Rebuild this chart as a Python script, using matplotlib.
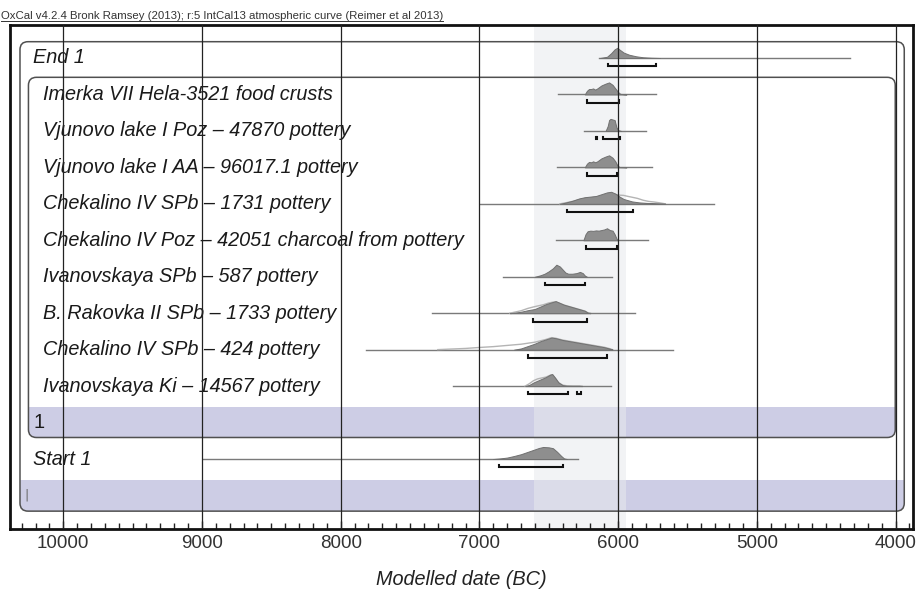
import matplotlib
matplotlib.use("Agg")
import matplotlib.pyplot as plt
from matplotlib.patches import FancyBboxPatch, Rectangle
from matplotlib.ticker import MultipleLocator
from matplotlib.lines import Line2D

# 1. Data (years BC, densities relative to each peak)
labels = [
    "End 1",
    "Imerka VII Hela-3521 food crusts",
    "Vjunovo lake I Poz \u2013 47870 pottery",
    "Vjunovo lake I AA \u2013 96017.1 pottery",
    "Chekalino IV SPb \u2013 1731 pottery",
    "Chekalino IV Poz \u2013 42051 charcoal from pottery",
    "Ivanovskaya SPb \u2013 587 pottery",
    "B. Rakovka II SPb \u2013 1733 pottery",
    "Chekalino IV SPb \u2013 424 pottery",
    "Ivanovskaya Ki \u2013 14567 pottery",
    "1",
    "Start 1",
    "|",
]
# thin horizontal range line under each distribution (from, to)
range_lines = [(6135, 4330), (6430, 5728), (6245, 5798), (6442, 5753), (6995, 5312),
               (6449, 5781), (6831, 6041), (7343, 5877), (7820, 5601), (7188, 6050),
               None, (8990, 6286), None]
# 95.4% ranges drawn as brackets
ranges_954 = [
    [(6073, 5724)],
    [(6223, 5990)],
    [(6160, 6150), (6106, 5983)],
    [(6223, 6005)],
    [(6370, 5894)],
    [(6233, 6009)],
    [(6529, 6236)],
    [(6615, 6226)],
    [(6646, 6077)],
    [(6646, 6363), (6297, 6267)],
    [],
    [(6858, 6394)],
    [],
]

end1_x = [6130, 6080, 6050, 6025, 6005, 5990, 5960, 5920, 5870, 5820, 5760, 5700]
end1_y = [0, 0.1, 0.4, 0.72, 0.85, 0.7, 0.45, 0.27, 0.14, 0.06, 0.02, 0]

imerka_x = [6240, 6225, 6210, 6195, 6180, 6165, 6150, 6120, 6090, 6065, 6040, 6020, 6000, 5985, 5960, 5940]
imerka_y = [0, 0.3, 0.45, 0.45, 0.5, 0.4, 0.5, 0.75, 0.9, 1.0, 0.8, 0.5, 0.2, 0.05, 0.02, 0]

vjpoz_x = [6090, 6075, 6065, 6055, 6040, 6025, 6012, 6000, 5980]
vjpoz_y = [0, 0.4, 0.9, 1.0, 0.95, 0.9, 0.3, 0.05, 0]

vjaa_x = [6240, 6225, 6210, 6195, 6180, 6165, 6150, 6120, 6090, 6065, 6040, 6020, 6005, 5990, 5960, 5940]
vjaa_y = [0, 0.3, 0.45, 0.42, 0.5, 0.42, 0.5, 0.75, 0.9, 1.0, 0.8, 0.5, 0.15, 0.03, 0.02, 0]

ch1731_x = [6420, 6380, 6330, 6280, 6240, 6200, 6160, 6120, 6080, 6050, 6020, 5990, 5960, 5930, 5900,
            5850, 5800, 5750, 5690, 5660]
ch1731_y = [0, 0.1, 0.25, 0.45, 0.55, 0.6, 0.65, 0.8, 0.95, 1.0, 0.85, 0.6, 0.4, 0.3, 0.2,
            0.12, 0.08, 0.05, 0.02, 0]
ch1731_lik_x = [6420, 6380, 6330, 6280, 6240, 6200, 6160, 6120, 6080, 6050, 6020, 5990, 5960, 5930,
                5900, 5860, 5820, 5780, 5740, 5700, 5660]
ch1731_lik_y = [0, 0.08, 0.2, 0.35, 0.45, 0.5, 0.55, 0.65, 0.78, 0.82, 0.78, 0.72, 0.7, 0.62,
                0.55, 0.45, 0.3, 0.2, 0.15, 0.08, 0]

chpoz_x = [6250, 6235, 6220, 6200, 6180, 6160, 6140, 6120, 6100, 6080, 6060, 6040, 6025, 6010, 6000]
chpoz_y = [0, 0.5, 0.75, 0.8, 0.78, 0.82, 0.8, 0.85, 0.9, 1.0, 0.85, 0.8, 0.5, 0.1, 0]

ivspb_x = [6600, 6560, 6530, 6500, 6470, 6445, 6420, 6400, 6380, 6360, 6330, 6300, 6275, 6255, 6240, 6225]
ivspb_y = [0, 0.12, 0.25, 0.45, 0.7, 1.0, 0.85, 0.6, 0.35, 0.25, 0.25, 0.3, 0.4, 0.3, 0.1, 0]

rak_x = [6780, 6740, 6700, 6650, 6600, 6560, 6520, 6480, 6450, 6420, 6390, 6360, 6330, 6300, 6270,
         6240, 6220, 6200]
rak_y = [0, 0.05, 0.12, 0.25, 0.35, 0.55, 0.75, 0.9, 1.0, 0.85, 0.7, 0.6, 0.5, 0.4, 0.3,
         0.2, 0.05, 0]
rak_lik_x = [6780, 6740, 6700, 6650, 6610, 6580, 6540, 6500, 6470, 6450, 6420, 6390, 6360, 6330,
             6300, 6270, 6240, 6220, 6200]
rak_lik_y = [0, 0.1, 0.2, 0.4, 0.52, 0.6, 0.7, 0.85, 0.92, 0.95, 0.82, 0.68, 0.58, 0.48,
             0.38, 0.28, 0.18, 0.05, 0]

ch424_x = [6750, 6700, 6650, 6600, 6560, 6520, 6480, 6450, 6400, 6350, 6300, 6250, 6200, 6150,
           6100, 6060, 6040]
ch424_y = [0, 0.1, 0.3, 0.5, 0.7, 0.85, 1.0, 0.95, 0.8, 0.7, 0.6, 0.5, 0.4, 0.3,
           0.2, 0.08, 0]
ch424_lik_x = [7300, 7200, 7100, 7000, 6900, 6800, 6700, 6600, 6520, 6480, 6450, 6400, 6350, 6300,
               6250, 6200, 6150, 6100, 6060, 6040]
ch424_lik_y = [0, 0.05, 0.1, 0.18, 0.25, 0.35, 0.45, 0.62, 0.85, 1.0, 0.95, 0.8, 0.7, 0.6,
               0.5, 0.4, 0.3, 0.2, 0.08, 0]

ivki_x = [6670, 6640, 6610, 6580, 6550, 6520, 6490, 6475, 6455, 6430, 6400, 6370, 6330, 6280, 6260]
ivki_y = [0, 0.1, 0.3, 0.45, 0.6, 0.75, 0.95, 1.0, 0.7, 0.3, 0.08, 0.03, 0.02, 0.02, 0]
ivki_lik_x = [6670, 6640, 6610, 6580, 6550, 6520, 6490, 6475, 6455, 6430, 6400, 6370, 6330, 6280, 6260]
ivki_lik_y = [0, 0.2, 0.45, 0.6, 0.68, 0.75, 0.9, 0.95, 0.7, 0.3, 0.08, 0.03, 0.02, 0.02, 0]

start1_x = [6900, 6850, 6800, 6750, 6700, 6650, 6600, 6570, 6540, 6500, 6470, 6440, 6410, 6390, 6370]
start1_y = [0, 0.05, 0.12, 0.25, 0.4, 0.6, 0.8, 0.92, 1.0, 0.97, 0.9, 0.6, 0.25, 0.05, 0]

posteriors = [(end1_x, end1_y), (imerka_x, imerka_y), (vjpoz_x, vjpoz_y), (vjaa_x, vjaa_y),
              (ch1731_x, ch1731_y), (chpoz_x, chpoz_y), (ivspb_x, ivspb_y), (rak_x, rak_y),
              (ch424_x, ch424_y), (ivki_x, ivki_y), None, (start1_x, start1_y), None]
likelihoods = {4: (ch1731_lik_x, ch1731_lik_y), 7: (rak_lik_x, rak_lik_y),
               8: (ch424_lik_x, ch424_lik_y), 9: (ivki_lik_x, ivki_lik_y)}

highlight = (6606, 5942)       # shaded column
x_ticks = [10000, 9000, 8000, 7000, 6000, 5000, 4000]

# 2. Layout constants
LAVENDER = "#cdcde5"
BOX_EDGE = "#505050"
PEAK = 0.33          # distribution peak height in rows
RAD_X = 58           # corner radius in years
ASPECT = 0.22 / RAD_X
LABEL_FS = 14.3

fig = plt.figure(figsize=(9.18, 5.92), dpi=100)
ax = fig.add_axes([10 / 918, 1 - 529 / 592, 903 / 918, 504 / 592])
ax.set_xlim(10384, 3874)
ax.set_ylim(12.92, -0.905)


def rounded_box(x_left, x_right, top, bottom):
    patch = FancyBboxPatch((x_right, top), x_left - x_right, bottom - top,
                           boxstyle=f"round,pad=0,rounding_size={RAD_X}",
                           mutation_aspect=ASPECT, fc="none", ec=BOX_EDGE, lw=1.1, zorder=2.2)
    ax.add_patch(patch)
    return patch


outer = rounded_box(10312, 3937, -0.447, 12.43)
inner = rounded_box(10251, 4002, 0.53, 10.41)

# lavender bands for the phase / sequence rows, clipped by their rounded boxes
for row, box, (xl, xr) in [(10, inner, (10251, 4002)), (12, outer, (10312, 3937))]:
    band = Rectangle((xr, row - 0.425), xl - xr, 0.85, fc=LAVENDER, ec="none", zorder=1)
    ax.add_patch(band)
    band.set_clip_path(box)

# shaded column
ax.axvspan(highlight[0], highlight[1], color="#e8eaed", alpha=0.55, lw=0, zorder=1.5)

# 3. Distributions, range lines and brackets
for i, label in enumerate(labels):
    if range_lines[i] is not None:
        ax.plot(range_lines[i], [i, i], color="#7a7a7a", lw=1.0, zorder=2.5)
    if i in likelihoods:
        lx, ly = likelihoods[i]
        ax.plot(lx, [i - PEAK * v for v in ly], color="#b4b4b4", lw=1.0, zorder=2.6)
    if posteriors[i] is not None:
        px, py = posteriors[i]
        ax.fill_between(px, [i] * len(px), [i - PEAK * v for v in py],
                        fc="#8e8e8e", ec="#707070", lw=0.7, zorder=2.7)
    for a, b in ranges_954[i]:
        yb = i + 0.23
        ax.plot([a, a, b, b], [yb - 0.07, yb, yb, yb - 0.07], color="#111111", lw=1.5,
                solid_joinstyle="miter", zorder=2.8)

    if i == 12:
        ax.text(10283, i, label, fontsize=9, color="#666666", va="center", ha="left", zorder=3)
    elif i in (0, 10, 11):
        style = "normal" if label == "1" else "italic"
        ax.text(10218, i, label, fontsize=LABEL_FS, fontstyle=style, family="Liberation Sans",
                va="center", ha="left", color="#1a1a1a", zorder=3)
    else:
        ax.text(10146, i, label, fontsize=LABEL_FS, fontstyle="italic", family="Liberation Sans",
                va="center", ha="left", color="#1a1a1a", zorder=3)

# 4. Grid, axis and labels
for t in x_ticks:
    ax.axvline(t, color="#222222", lw=0.9, zorder=5)

ax.set_xticks(x_ticks)
ax.xaxis.set_minor_locator(MultipleLocator(100))
ax.tick_params(axis="x", which="minor", direction="in", length=4, width=1, color="#222222")
ax.tick_params(axis="x", which="major", direction="in", length=6, width=1, pad=4,
               labelsize=13.5, labelcolor="#333333", color="#222222")
for lab in ax.get_xticklabels():
    lab.set_family("Liberation Sans")
ax.set_yticks([])
for sp in ax.spines.values():
    sp.set_linewidth(2)
    sp.set_color("#111111")
ax.set_xlabel("Modelled date (BC)", fontsize=14.3, fontstyle="italic", family="Liberation Sans",
              color="#222222", labelpad=13)

title = fig.text(1 / 918, 1 - 16 / 592, "OxCal v4.2.4 Bronk Ramsey (2013); r:5 IntCal13 atmospheric "
                 "curve (Reimer et al 2013)", fontsize=8.2, family="Liberation Sans",
                 color="#333333", va="center", ha="left")
fig.canvas.draw()
bb = title.get_window_extent().transformed(fig.transFigure.inverted())
fig.add_artist(Line2D([bb.x0, bb.x1], [1 - 21 / 592] * 2, color="#333333", lw=0.7))

fig.savefig("out.png", dpi=100)
